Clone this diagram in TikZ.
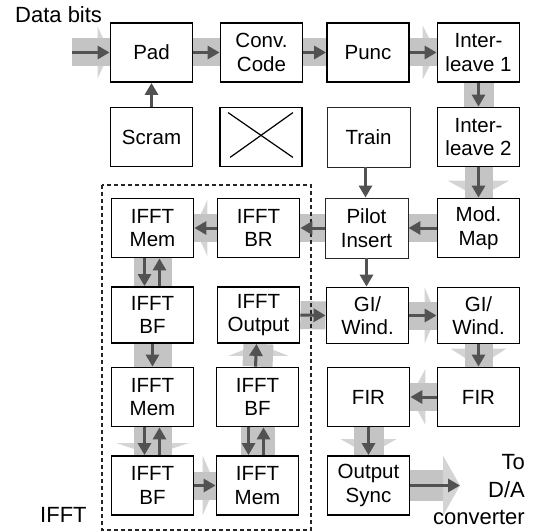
\documentclass[tikz,border=0pt]{standalone}
\usepackage{fontspec}
\setmainfont{Liberation Sans}
\usetikzlibrary{arrows.meta,calc}
\definecolor{bandc}{gray}{0.77}
\definecolor{headc}{gray}{0.83}
\definecolor{darkc}{gray}{0.32}
\pgfdeclarelayer{bg}
\pgfsetlayers{bg,main}
% heads of the wide grey arrows: #1 tip point, #2 length, #3 half width
\newcommand\hdR[3]{\fill[headc] ($(#1)+(-#2,-#3)$) -- (#1) -- ($(#1)+(-#2,#3)$) -- cycle;}
\newcommand\hdL[3]{\fill[headc] ($(#1)+(#2,-#3)$) -- (#1) -- ($(#1)+(#2,#3)$) -- cycle;}
\newcommand\hdD[3]{\fill[headc] ($(#1)+(-#3,-#2)$) -- (#1) -- ($(#1)+(#3,-#2)$) -- cycle;}
\newcommand\hdU[3]{\fill[headc] ($(#1)+(-#3,#2)$) -- (#1) -- ($(#1)+(#3,#2)$) -- cycle;}
\begin{document}
\begin{tikzpicture}[x=1pt,y=-1pt,
  box/.style={draw=black, line width=1.8pt, fill=white, minimum width=82pt,
    minimum height=59pt, inner sep=0pt, align=center,
    font=\fontsize{20.5}{23.5}\selectfont},
  thinbox/.style={box, draw=black!85, line width=0.9pt, minimum width=83pt, minimum height=60pt},
  lowbox/.style={box, minimum height=56pt},
  band/.style={draw=bandc, line width=28pt},
  wband/.style={draw=bandc, line width=38pt},
  arr/.style={draw=darkc, line width=3pt, -{Triangle[length=12pt,width=13pt]}},
  lbl/.style={inner sep=0pt, font=\fontsize{22}{28}\selectfont},
  frame/.style={draw=black!85, line width=1.2pt, dash pattern=on 4pt off 3pt}]
\useasboundingbox (0,0) rectangle (538,532);

% row 1
\node[box] (pad)  at (151.5,52.5) {Pad};
\node[box] (conv) at (261.5,52.5) {Conv.\\Code};
\node[box] (punc) at (368,52.5) {Punc};
\node[box] (il1)  at (478.5,52.5) {Inter-\\leave 1};
% row 2
\node[box] (scram) at (151.5,137) {Scram};
\node[box] (xbox)  at (261,137) {};
\node[thinbox] (train) at (368.5,137) {Train};
\node[box] (il2)   at (478.5,137) {Inter-\\leave 2};
% row 3
\node[box] (mem1)  at (152.5,228) {IFFT\\Mem};
\node[box] (br)    at (258.5,228) {IFFT\\BR};
\node[thinbox] (pilot) at (366.5,228) {Pilot\\Insert};
\node[box] (mod)   at (478.5,228) {Mod.\\Map};
% row 4
\node[lowbox] (bf1)  at (152.5,315) {IFFT\\BF};
\node[lowbox] (outp) at (258.5,315) {IFFT\\Output};
\node[lowbox] (gi1)  at (367.5,315.5) {GI/\\Wind.};
\node[lowbox] (gi2)  at (478.5,315.5) {GI/\\Wind.};
% row 5
\node[box] (mem2) at (152.5,397) {IFFT\\Mem};
\node[box] (bf2)  at (257.5,397) {IFFT\\BF};
\node[box] (fir1) at (368.5,397) {FIR};
\node[box] (fir2) at (478.5,397) {FIR};
% row 6
\node[box] (bf3)  at (152.5,485.5) {IFFT\\BF};
\node[box] (mem3) at (257.5,485.5) {IFFT\\Mem};
\node[box] (sync) at (368.5,485.5) {Output\\Sync};

% crossed-out box
\draw[line width=1.2pt] ($(xbox.north west)+(9,6)$) -- ($(xbox.south east)+(-10,-10)$);
\draw[line width=1.2pt] ($(xbox.south west)+(11,-10)$) -- ($(xbox.north east)+(-10,6)$);

% dashed IFFT frame
\draw[frame] (102,185) rectangle (311,530);

% free ends
\coordinate (in)  at (72,52.5);
\coordinate (outb) at (443,485.5);
\coordinate (outt) at (460,485.5);

% labels
\node[lbl, anchor=base west] (databits) at (15,23) {Data bits};
\node[lbl, anchor=base west] (ifft) at (40,522) {IFFT};
\node[lbl, anchor=base east] (to) at (525,469) {To};
\node[lbl, anchor=base east] (da) at (525,497) {D/A};
\node[lbl, anchor=base east] (conver) at (525,524) {converter};

% wide grey arrows (behind)
\begin{pgfonlayer}{bg}
  \hdR{pad.west}{12}{26}
  \draw[band] (in) -- (pad.west);
  \draw[band] (pad.east) -- (conv.west);
  \draw[band] (conv.east) -- (punc.west);
  \hdR{il1.west}{14}{27}
  \draw[band] (punc.east) -- (il1.west);
  \draw[band, line width=30pt] (il1.south) -- (il2.north);
  \hdD{mod.north}{17}{31}
  \draw[band] (il2.south) -- (mod.north);
  \draw[band] (mod.west) -- (pilot.east);
  \draw[band] (pilot.west) -- (br.east);
  \hdL{mem1.east}{13}{28}
  \draw[band] (br.west) -- (mem1.east);
  \draw[wband] (mem1.south) -- (bf1.north);
  \draw[wband] (bf1.south) -- (mem2.north);
  \hdD{bf3.north}{12}{36}
  \draw[wband] (mem2.south) -- (bf3.north);
  \hdR{mem3.west}{13}{30}
  \draw[band] (bf3.east) -- (mem3.west);
  \draw[band, line width=34pt] (mem3.north) -- (bf2.south);
  \hdU{outp.south}{12}{30}
  \draw[band, line width=30pt] (bf2.north) -- (outp.south);
  \draw[band] (outp.east) -- (gi1.west);
  \hdR{gi2.west}{12}{28}
  \draw[band] (gi1.east) -- (gi2.west);
  \hdD{fir2.north}{18}{28}
  \draw[band] (gi2.south) -- (fir2.north);
  \hdL{fir1.east}{15}{28}
  \draw[band] (fir2.west) -- (fir1.east);
  \hdD{sync.north}{16}{28}
  \draw[band, line width=30pt] (fir1.south) -- (sync.north);
  \hdR{outt}{17}{30}
  \draw[band, line width=31pt] (sync.east) -- (outb);
\end{pgfonlayer}

% dark arrows
\draw[arr] (in) -- (pad.west);
\draw[arr] (pad.east) -- (conv.west);
\draw[arr] (conv.east) -- (punc.west);
\draw[arr] (punc.east) -- (il1.west);
\draw[arr] (scram.north) -- (pad.south);
\draw[arr] (il1.south) -- (il2.north);
\draw[arr] (il2.south) -- (mod.north);
\draw[arr] ($(pilot.north |- train.south)+(-1,0)$) -- ($(pilot.north)+(-1,0)$);
\draw[arr] (mod.west) -- (pilot.east);
\draw[arr] (pilot.west) -- (br.east);
\draw[arr] (br.west) -- (mem1.east);
\draw[arr] (pilot.south) -- (gi1.north -| pilot.south);
\draw[arr] ($(mem1.south)+(-8,0)$) -- ($(bf1.north)+(-8,0)$);
\draw[arr] ($(bf1.north)+(7,0)$) -- ($(mem1.south)+(7,0)$);
\draw[arr] (bf1.south) -- (mem2.north);
\draw[arr] ($(mem2.south)+(-8,0)$) -- ($(bf3.north)+(-8,0)$);
\draw[arr] ($(bf3.north)+(7,0)$) -- ($(mem2.south)+(7,0)$);
\draw[arr] (bf3.east) -- (mem3.west);
\draw[arr] ($(bf2.south)+(-9,0)$) -- ($(mem3.north)+(-9,0)$);
\draw[arr] ($(mem3.north)+(6,0)$) -- ($(bf2.south)+(6,0)$);
\draw[arr] ($(bf2.north)+(-2,0)$) -- ($(outp.south)+(-2,0)$);
\draw[arr] (outp.east) -- (gi1.west);
\draw[arr] (gi1.east) -- (gi2.west);
\draw[arr] (gi2.south) -- (fir2.north);
\draw[arr] (fir2.west) -- (fir1.east);
\draw[arr] (fir1.south) -- (sync.north);
\draw[arr] (sync.east) -- (outt);
\end{tikzpicture}
\end{document}
